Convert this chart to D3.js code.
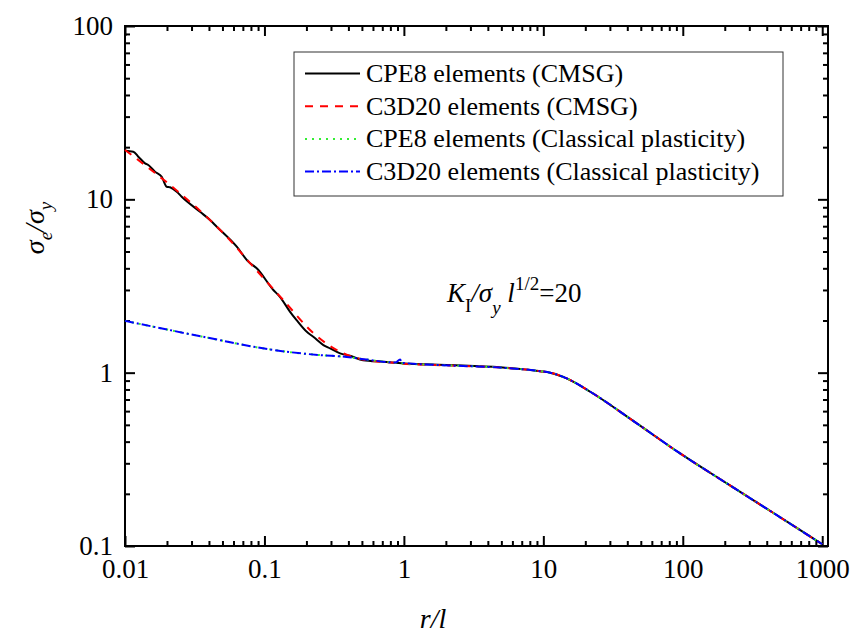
<!DOCTYPE html>
<html><head><meta charset="utf-8">
<script src="https://cdn.jsdelivr.net/npm/d3@7"></script>
<style>
body{margin:0;background:#fff;}
svg text{font-family:"Liberation Serif","Times New Roman",serif;fill:#000;}
</style></head>
<body><svg id="c" width="855" height="635"></svg>
<script>
// ---- data ----
const seriesNames = ["CPE8 elements (CMSG)","C3D20 elements (CMSG)","CPE8 elements (Classical plasticity)","C3D20 elements (Classical plasticity)"];
const seriesColors = ["#000000","#ff0000","#33ee33","#0000ff"];

const cpe8CmsgR = [0.01,0.01017,0.01147,0.01246,0.01392,0.01469,0.01641,0.01834,0.01991,0.02103,0.02349,0.0255,0.0345,0.0407,0.0455,0.0633,0.0766,0.088,0.1158,0.129,0.1527,0.170,0.2012,0.224,0.2646,0.296,0.3486,0.411,0.51,0.713,1.0,2.14,4.9,9.5,11.2,14.7,21.7,46.8,95.7,207,447,941,1000];
const cpe8CmsgS = [19.3,19.07,18.83,17.62,16.13,15.78,14.43,13.5,11.82,11.73,11.06,10.35,8.48,7.6,6.95,5.33,4.37,4.0,3.0,2.74,2.245,2.01,1.72,1.61,1.443,1.38,1.292,1.251,1.18,1.156,1.13,1.106,1.073,1.02,1.0,0.927,0.776,0.51,0.342,0.2297,0.155,0.1057,0.1025];

const c3d20CmsgR = [0.01,0.0248,0.0407,0.0537,0.0833,0.1367,0.2244,0.3486,0.54,0.85,1.0,2.14,4.9,9.5,11.2,14.7,21.7,46.8,95.7,207,447,941,1000];
const c3d20CmsgS = [19.26,10.83,7.6,6.08,4.08,2.62,1.69,1.32,1.18,1.14,1.125,1.10,1.07,1.02,1.0,0.927,0.776,0.51,0.342,0.2297,0.155,0.1057,0.1025];

const cpe8ClassR = [0.01,0.021,0.048,0.0833,0.145,0.25,0.389,0.54,1.0,2.14,4.9,9.5,11.2,14.7,21.7,46.8,95.7,207,447,941,1000];
const cpe8ClassS = [1.99,1.76,1.54,1.411,1.32,1.263,1.232,1.19,1.13,1.10,1.07,1.02,1.0,0.927,0.776,0.51,0.342,0.2297,0.155,0.1057,0.1025];

const c3d20ClassR = [0.01,0.021,0.048,0.0833,0.145,0.25,0.389,0.54,0.87,0.94,0.97,2.14,4.9,9.5,11.2,14.7,21.7,46.8,95.7,207,447,941,1000];
const c3d20ClassS = [1.99,1.76,1.54,1.411,1.32,1.263,1.232,1.19,1.145,1.19,1.14,1.10,1.07,1.02,1.0,0.927,0.776,0.51,0.342,0.2297,0.155,0.1057,0.1025];

const xMajor = [0.01,0.1,1,10,100,1000];
const xTickLabels = ["0.01","0.1","1","10","100","1000"];
const yMajor = [0.1,1,10,100];
const yTickLabels = ["0.1","1","10","100"];
const xMinorMult = [2,3,4,5,6,7,8,9];

// ---- chart ----
const svg = d3.select("#c");
const L=125,R=828,T=26,B=546;
const x = d3.scaleLog().domain([0.01,1100]).range([L,R]);
const y = d3.scaleLog().domain([0.1,100]).range([B,T]);

const xMinor = [];
xMajor.slice(0,5).forEach(d=>xMinorMult.forEach(m=>xMinor.push(d*m)));
const yMinor = [];
yMajor.slice(0,3).forEach(d=>xMinorMult.forEach(m=>yMinor.push(d*m)));

function styleAxis(g){
  g.select(".domain").remove();
  g.selectAll(".tick line").attr("stroke","#000").attr("stroke-width",2);
  g.selectAll(".tick text").style("font-size","27px").style("font-family","'Liberation Serif',serif");
}
// bottom
svg.append("g").attr("transform",`translate(0,${B})`)
  .call(d3.axisBottom(x).tickValues(xMajor).tickFormat((d,i)=>xTickLabels[i]).tickSize(-10).tickPadding(13))
  .call(styleAxis);
svg.append("g").attr("transform",`translate(0,${B})`)
  .call(d3.axisBottom(x).tickValues(xMinor).tickFormat("").tickSize(-5)).call(styleAxis);
// top
svg.append("g").attr("transform",`translate(0,${T})`)
  .call(d3.axisTop(x).tickValues(xMajor).tickFormat("").tickSize(-10)).call(styleAxis);
svg.append("g").attr("transform",`translate(0,${T})`)
  .call(d3.axisTop(x).tickValues(xMinor).tickFormat("").tickSize(-5)).call(styleAxis);
// left
svg.append("g").attr("transform",`translate(${L},0)`)
  .call(d3.axisLeft(y).tickValues(yMajor).tickFormat((d,i)=>yTickLabels[i]).tickSize(-10).tickPadding(12))
  .call(styleAxis);
svg.append("g").attr("transform",`translate(${L},0)`)
  .call(d3.axisLeft(y).tickValues(yMinor).tickFormat("").tickSize(-5)).call(styleAxis);
// right
svg.append("g").attr("transform",`translate(${R},0)`)
  .call(d3.axisRight(y).tickValues(yMajor).tickFormat("").tickSize(-10)).call(styleAxis);
svg.append("g").attr("transform",`translate(${R},0)`)
  .call(d3.axisRight(y).tickValues(yMinor).tickFormat("").tickSize(-5)).call(styleAxis);

svg.append("rect").attr("x",L).attr("y",T).attr("width",R-L).attr("height",B-T)
  .attr("fill","none").attr("stroke","#000").attr("stroke-width",2);

// lines
const dashes = [null,"8,7","2,5","9,3,2,3"];
const widths = [2,2,2,2];
const data = [
  cpe8CmsgR.map((r,i)=>[r,cpe8CmsgS[i]]),
  c3d20CmsgR.map((r,i)=>[r,c3d20CmsgS[i]]),
  cpe8ClassR.map((r,i)=>[r,cpe8ClassS[i]]),
  c3d20ClassR.map((r,i)=>[r,c3d20ClassS[i]])
];
const line = d3.line().x(d=>x(d[0])).y(d=>y(d[1])).curve(d3.curveMonotoneX);
data.forEach((s,i)=>{
  svg.append("path").datum(s).attr("d",line).attr("fill","none")
    .attr("stroke",seriesColors[i]).attr("stroke-width",widths[i])
    .attr("stroke-dasharray",dashes[i]);
});

// legend
svg.append("rect").attr("x",294).attr("y",52).attr("width",489).attr("height",144)
  .attr("fill","#fff").attr("stroke","#333").attr("stroke-width",1);
seriesNames.forEach((n,i)=>{
  const yy = 73.5 + i*32.7;
  svg.append("line").attr("x1",305).attr("x2",360).attr("y1",yy).attr("y2",yy)
    .attr("stroke",seriesColors[i]).attr("stroke-width",2).attr("stroke-dasharray",dashes[i]);
  svg.append("text").attr("x",366).attr("y",yy).attr("dy","0.33em")
    .style("font-size","26px").text(n);
});

// annotation
const ann = svg.append("text").attr("x",447).attr("y",302).style("font-size","27px");
ann.append("tspan").style("font-style","italic").text("K");
ann.append("tspan").attr("dy",10).style("font-size","19px").text("I");
ann.append("tspan").attr("dy",-10).style("font-style","italic").text("/σ");
ann.append("tspan").attr("dy",12).style("font-size","19px").style("font-style","italic").text("y");
ann.append("tspan").attr("dy",-12).style("font-style","italic").text(" l");
ann.append("tspan").attr("dy",-12).style("font-size","19px").text("1/2");
ann.append("tspan").attr("dy",12).text("=20");

// axis titles
svg.append("text").attr("x",433).attr("y",628).attr("text-anchor","middle")
  .style("font-size","28px").style("font-style","italic").text("r/l");
const yl = svg.append("text").attr("transform","translate(44,228) rotate(-90)")
  .attr("text-anchor","middle").style("font-size","28px");
yl.append("tspan").style("font-style","italic").text("σ");
yl.append("tspan").attr("dy",8).style("font-size","19px").style("font-style","italic").text("e");
yl.append("tspan").attr("dy",-8).style("font-style","italic").text("/σ");
yl.append("tspan").attr("dy",8).style("font-size","19px").style("font-style","italic").text("y");
</script>
</body></html>
